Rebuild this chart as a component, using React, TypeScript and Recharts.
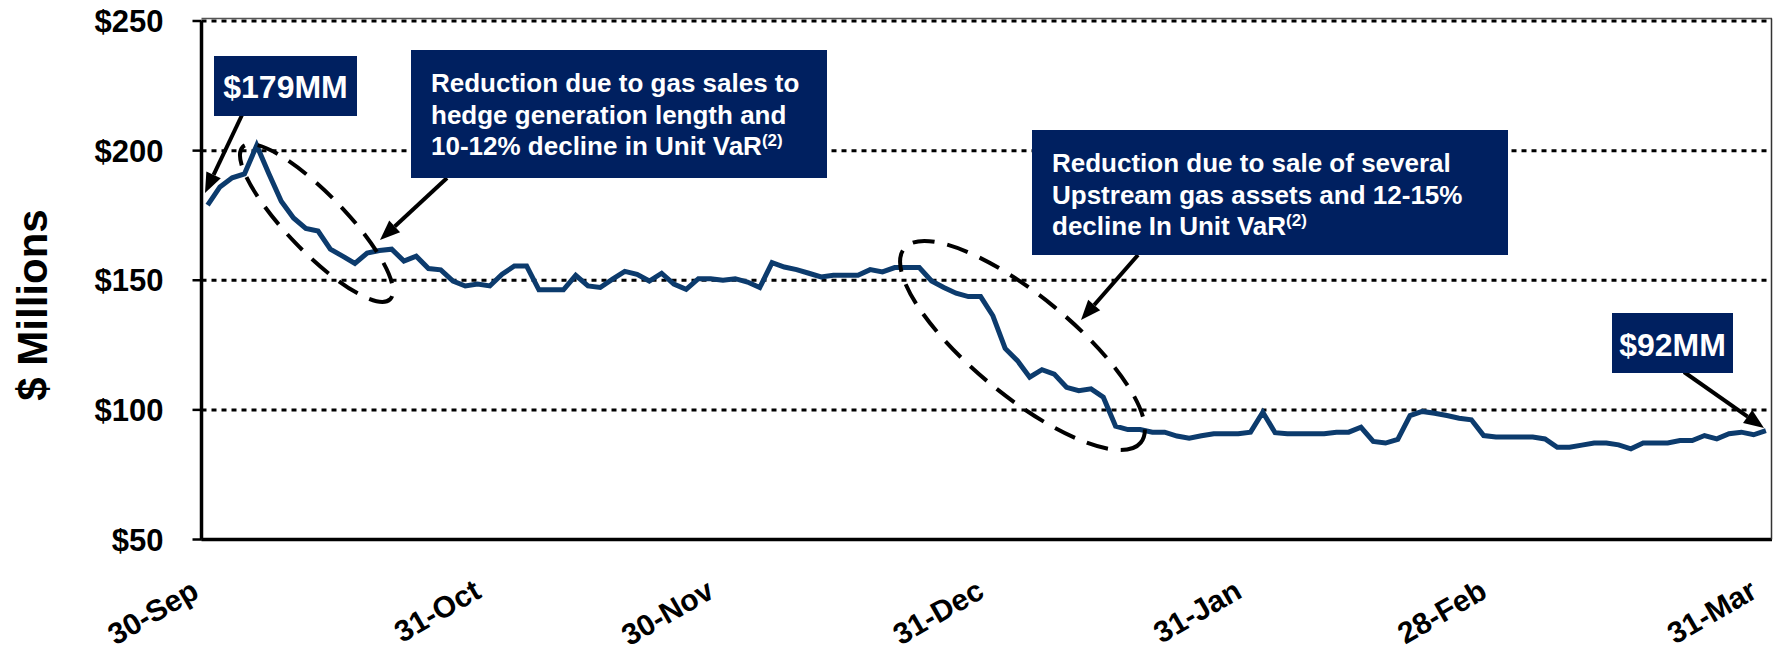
import { CartesianGrid, Line, LineChart, XAxis, YAxis } from "recharts";

// daily VaR, one value per trading day from 30-Sep to 31-Mar ($ millions)
const varValues = [
  179, 186, 189.5, 191, 202, 191, 180.5, 174, 170, 169,
  162, 159.3, 156.5, 160.5, 161.5, 162, 157.4, 159.3, 154.5, 154,
  149.7, 147.8, 148.5, 147.8, 152.3, 155.5, 155.5, 146.3, 146.3, 146.3,
  151.9, 147.8, 147.2, 150.4, 153.4, 152.3, 149.7, 152.7, 148.5, 146.5,
  150.6, 150.6, 150, 150.6, 149.3, 147.2, 156.8, 155.1, 154.1, 152.7,
  151.3, 151.9, 151.9, 151.9, 154.1, 153.2, 154.9, 154.9, 154.9, 149.7,
  147.2, 145, 143.7, 143.7, 136.3, 123.7, 119, 112.6, 115.5, 113.8,
  108.7, 107.4, 108.1, 104.9, 93.7, 92.4, 92.4, 91.4, 91.4, 89.9,
  89.1, 90, 90.8, 90.8, 90.8, 91.4, 99.1, 91.2, 90.8, 90.8,
  90.8, 90.8, 91.4, 91.4, 93.3, 87.8, 87.2, 88.6, 97.8, 99.4,
  98.7, 97.8, 96.8, 96.2, 90.1, 89.5, 89.5, 89.5, 89.5, 88.8,
  85.6, 85.6, 86.4, 87.2, 87.2, 86.5, 85, 87.2, 87.2, 87.2,
  88.2, 88.2, 90.1, 88.8, 90.8, 91.4, 90.4, 92
];

const monthEndIndex = [0, 23, 42, 64, 85, 105, 127];
const monthEndLabels = ["30-Sep", "31-Oct", "30-Nov", "31-Dec", "31-Jan", "28-Feb", "31-Mar"];
const yTicks = [50, 100, 150, 200, 250];

const data = varValues.map((v, i) => ({ i, v }));

const FONT = "'Liberation Sans', Arial, Helvetica, sans-serif";
const NAVY = "#002060";

function DateTick(props: any) {
  const { x, payload } = props;
  const k = monthEndIndex.indexOf(payload.value);
  const ax = Number(x) - 7;
  const ay = 539.5 + 57;
  return (
    <g transform={`translate(${ax},${ay})`}>
      <text
        x={0}
        y={0}
        transform="rotate(-30)"
        textAnchor="end"
        fontSize={30}
        fontWeight="bold"
        fontFamily={FONT}
        fill="#000"
      >
        {monthEndLabels[k]}
      </text>
    </g>
  );
}

function Arrow({ x1, y1, x2, y2 }: { x1: number; y1: number; x2: number; y2: number }) {
  const dx = x2 - x1;
  const dy = y2 - y1;
  const len = Math.hypot(dx, dy);
  const ux = dx / len;
  const uy = dy / len;
  const head = 20;
  const half = 8;
  const bx = x2 - ux * head;
  const by = y2 - uy * head;
  return (
    <g>
      <line x1={x1} y1={y1} x2={bx} y2={by} stroke="#000" strokeWidth={4} />
      <polygon
        points={`${x2},${y2} ${bx - uy * half},${by + ux * half} ${bx + uy * half},${by - ux * half}`}
        fill="#000"
      />
    </g>
  );
}

function Callout({ x, y, w, h, lines, size }: { x: number; y: number; w: number; h: number; lines: string[]; size: number }) {
  return (
    <g>
      <rect x={x} y={y} width={w} height={h} fill={NAVY} />
      {lines.map((t, k) => {
        const sup = t.endsWith("(2)");
        const body = sup ? t.slice(0, -3) : t;
        return (
          <text
            key={k}
            x={x + 20}
            y={y + 42 + k * 31.6}
            fontSize={size}
            fontWeight="bold"
            fontFamily={FONT}
            fill="#fff"
          >
            {body}
            {sup && (
              <tspan fontSize={17} dy={-9}>
                (2)
              </tspan>
            )}
          </text>
        );
      })}
    </g>
  );
}

export default function App() {
  return (
    <div style={{ position: "absolute", left: 0, top: 0, width: 1773, height: 652, background: "#fff" }}>
      <LineChart width={1773} height={652} data={data} margin={{ top: 21, right: 1, bottom: 0.5, left: 0.5 }}>
        <CartesianGrid vertical={false} stroke="#000" strokeDasharray="5 5" strokeWidth={3} />
        <XAxis
          dataKey="i"
          type="number"
          domain={[-0.5, 127.5]}
          ticks={monthEndIndex}
          interval={0}
          tick={(p: any) => <DateTick {...p} />}
          tickLine={false}
          tickSize={0}
          tickMargin={0}
          height={112}
          axisLine={{ stroke: "#000", strokeWidth: 3.5 }}
        />
        <YAxis
          domain={[50, 250]}
          ticks={yTicks}
          interval={0}
          width={201}
          tickSize={9}
          tickMargin={29}
          tickFormatter={(v: number) => `$${v}`}
          tick={{ fontSize: 31, fontWeight: "bold", fill: "#000", fontFamily: FONT }}
          tickLine={{ stroke: "#000", strokeWidth: 2.5 }}
          axisLine={{ stroke: "#000", strokeWidth: 3.5 }}
        />
        <Line
          type="linear"
          dataKey="v"
          stroke="#0c3b6d"
          strokeWidth={5}
          dot={false}
          isAnimationActive={false}
        />
      </LineChart>
      <svg
        width={1773}
        height={652}
        style={{ position: "absolute", left: 0, top: 0, pointerEvents: "none" }}
      >
        <line x1={201.5} y1={18.5} x2={1772} y2={18.5} stroke="#555" strokeWidth={1.5} />
        <line x1={1771.5} y1={18.5} x2={1771.5} y2={539.5} stroke="#333" strokeWidth={1.5} />

        <text
          transform="translate(47 305) rotate(-90)"
          textAnchor="middle"
          fontSize={42}
          fontWeight="bold"
          fontFamily={FONT}
          fill="#000"
        >
          $ Millions
        </text>

        <ellipse
          cx={316.5}
          cy={223}
          rx={106}
          ry={29}
          transform="rotate(46 316.5 223)"
          fill="none"
          stroke="#000"
          strokeWidth={4}
          strokeDasharray="22 13"
        />
        <ellipse
          cx={1022.5}
          cy={345.5}
          rx={153}
          ry={50}
          transform="rotate(39.4 1022.5 345.5)"
          fill="none"
          stroke="#000"
          strokeWidth={4}
          strokeDasharray="22 13"
        />

        <Arrow x1={242} y1={115} x2={205} y2={193} />
        <Arrow x1={447} y1={178} x2={380} y2={240} />
        <Arrow x1={1138} y1={255} x2={1081} y2={320} />
        <Arrow x1={1684} y1={372} x2={1764} y2={428} />

        <rect x={214} y={56} width={143} height={60} fill={NAVY} />
        <text x={285.5} y={98} textAnchor="middle" fontSize={32} fontWeight="bold" fontFamily={FONT} fill="#fff">
          $179MM
        </text>

        <rect x={1612} y={313} width={121} height={60} fill={NAVY} />
        <text x={1672.5} y={356} textAnchor="middle" fontSize={32} fontWeight="bold" fontFamily={FONT} fill="#fff">
          $92MM
        </text>

        <Callout
          x={411}
          y={50}
          w={416}
          h={128}
          size={26}
          lines={["Reduction due to gas sales to", "hedge generation length and", "10-12% decline in Unit VaR(2)"]}
        />
        <Callout
          x={1032}
          y={130}
          w={476}
          h={125}
          size={26}
          lines={["Reduction due to sale of several", "Upstream gas assets and 12-15%", "decline In Unit VaR(2)"]}
        />
      </svg>
    </div>
  );
}
